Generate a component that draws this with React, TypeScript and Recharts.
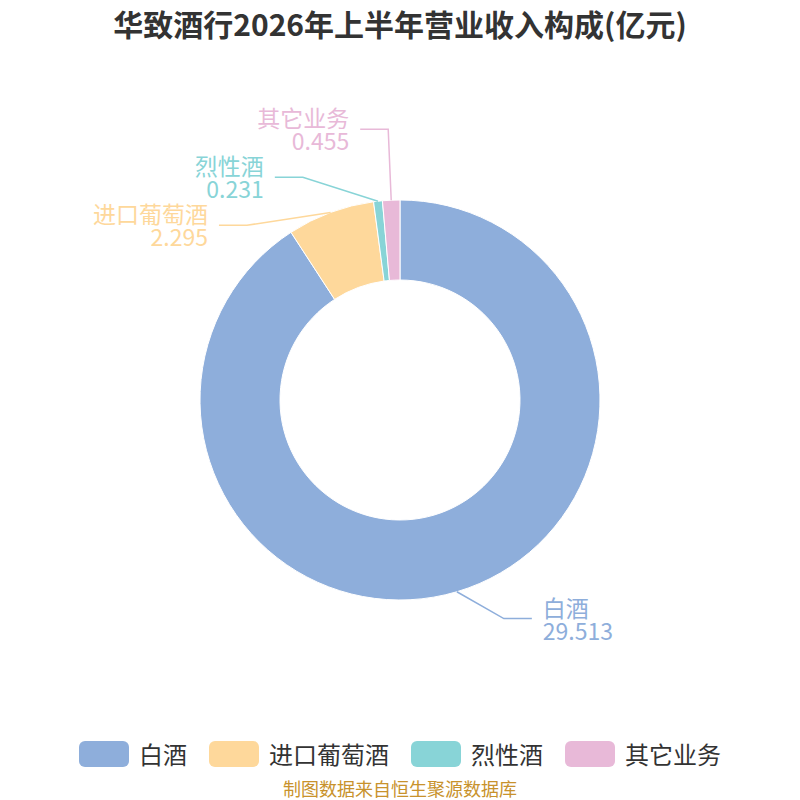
import React from 'react';
import { PieChart, Pie, Cell, Legend } from 'recharts';

const categories = ['白酒', '进口葡萄酒', '烈性酒', '其它业务'];
const values = [29.513, 2.295, 0.231, 0.455];
const colors = ['#8eaedb', '#fed89b', '#88d4d7', '#e8b9d8'];
const title = '华致酒行2026年上半年营业收入构成(亿元)';
const source = '制图数据来自恒生聚源数据库';

const data = categories.map((name, i) => ({ name, value: values[i] }));

const FONT = '"Noto Sans CJK SC", "Noto Sans", sans-serif';
const CX = 400;
const CY = 400;
const INNER = 120;
const OUTER = 200;
const START = 90;
const END = -270;
const RAD = Math.PI / 180;

// label layout (echarts-like): natural position, then spread overlapping labels
function computeLayout() {
  const total = values.reduce((a, b) => a + b, 0);
  let acc = START;
  const items = values.map((v, i) => {
    const span = ((END - START) * v) / total;
    const mid = acc + span / 2;
    acc += span;
    const side = Math.cos(mid * RAD) >= 0 ? 1 : -1;
    const ny = CY - (OUTER + 28) * Math.sin(mid * RAD);
    const ex = CX + OUTER * Math.cos(mid * RAD);
    const ey = CY - OUTER * Math.sin(mid * RAD);
    return { i, mid, side, ny, y: ny, ex, ey, x: 0 };
  });
  const gap = 48;
  [1, -1].forEach((side) => {
    const list = items.filter((it) => it.side === side).sort((a, b) => a.ny - b.ny);
    const groups = list.map((it) => [it]);
    const place = (g) => {
      const mean = g.reduce((s, it) => s + it.ny, 0) / g.length;
      g.forEach((it, k) => (it.y = mean + (k - (g.length - 1) / 2) * gap));
    };
    groups.forEach(place);
    let changed = true;
    while (changed) {
      changed = false;
      for (let k = 0; k < groups.length - 1; k++) {
        const a = groups[k];
        const b = groups[k + 1];
        if (b[0].y - a[a.length - 1].y < gap) {
          const merged = a.concat(b);
          place(merged);
          groups.splice(k, 2, merged);
          changed = true;
          break;
        }
      }
    }
  });
  const rA = 214;
  const rB = 250;
  items.forEach((it) => {
    const dy = it.y - CY;
    const t = Math.max(0, 1 - (dy * dy) / (rB * rB));
    const dx = Math.sqrt(t) * rA;
    let x = CX + it.side * dx;
    if (it.side < 0) x = Math.min(x, it.ex - 3);
    else x = Math.max(x, it.ex + 3);
    it.x = x;
  });
  return items;
}

const layout = computeLayout();

const renderLabel = (props) => {
  const { index, cx, cy, midAngle, outerRadius } = props;
  const it = layout[index];
  const sx = cx + outerRadius * Math.cos(-midAngle * RAD);
  const sy = cy + outerRadius * Math.sin(-midAngle * RAD);
  const endX = it.x + it.side * 28;
  const tx = endX + it.side * 11;
  const color = colors[index];
  const anchor = it.side > 0 ? 'start' : 'end';
  return (
    <g key={`lbl-${index}`}>
      <polyline
        points={`${sx},${sy} ${it.x},${it.y} ${endX},${it.y}`}
        fill="none"
        stroke={color}
        strokeWidth={1.5}
      />
      <text
        x={tx}
        y={it.y - 12}
        textAnchor={anchor}
        dominantBaseline="central"
        fill={color}
        fontSize={23}
        fontFamily={FONT}
      >
        <tspan x={tx}>{categories[index]}</tspan>
        <tspan x={tx} dy={23}>
          {values[index].toString()}
        </tspan>
      </text>
    </g>
  );
};

const renderLegend = () => (
  <div
    style={{
      display: 'flex',
      justifyContent: 'center',
      alignItems: 'center',
      fontFamily: FONT,
      fontSize: 24,
      color: '#333',
    }}
  >
    {categories.map((name, i) => (
      <div key={name} style={{ display: 'flex', alignItems: 'center', marginRight: i < categories.length - 1 ? 22 : 0 }}>
        <svg width={50} height={26} style={{ marginRight: 10 }}>
          <rect x={0} y={0} width={50} height={26} rx={6} ry={6} fill={colors[i]} />
        </svg>
        <span style={{ lineHeight: '26px' }}>{name}</span>
      </div>
    ))}
  </div>
);

export default function App() {
  return (
    <div style={{ position: 'absolute', left: 0, top: 0, width: 800, height: 800, background: '#fff' }}>
      <div
        style={{
          position: 'absolute',
          left: 0,
          top: 2,
          width: 800,
          textAlign: 'center',
          fontFamily: FONT,
          fontWeight: 'bold',
          fontSize: 30,
          color: '#333',
          lineHeight: '42px',
        }}
      >
        {title}
      </div>
      <PieChart width={800} height={800} margin={{ top: 0, right: 0, bottom: 0, left: 0 }}>
        <Pie
          data={data}
          dataKey="value"
          nameKey="name"
          cx={CX}
          cy={CY}
          innerRadius={INNER}
          outerRadius={OUTER}
          startAngle={START}
          endAngle={END}
          stroke="#fff"
          strokeWidth={1}
          label={renderLabel}
          labelLine={false}
          isAnimationActive={false}
        >
          {data.map((d, i) => (
            <Cell key={d.name} fill={colors[i]} />
          ))}
        </Pie>
        <Legend
          content={renderLegend}
          wrapperStyle={{ position: 'absolute', left: 0, top: 741, width: 800 }}
        />
      </PieChart>
      <div
        style={{
          position: 'absolute',
          left: 0,
          top: 776,
          width: 800,
          textAlign: 'center',
          fontFamily: FONT,
          fontSize: 18,
          color: '#c8922c',
          lineHeight: '24px',
        }}
      >
        {source}
      </div>
    </div>
  );
}
